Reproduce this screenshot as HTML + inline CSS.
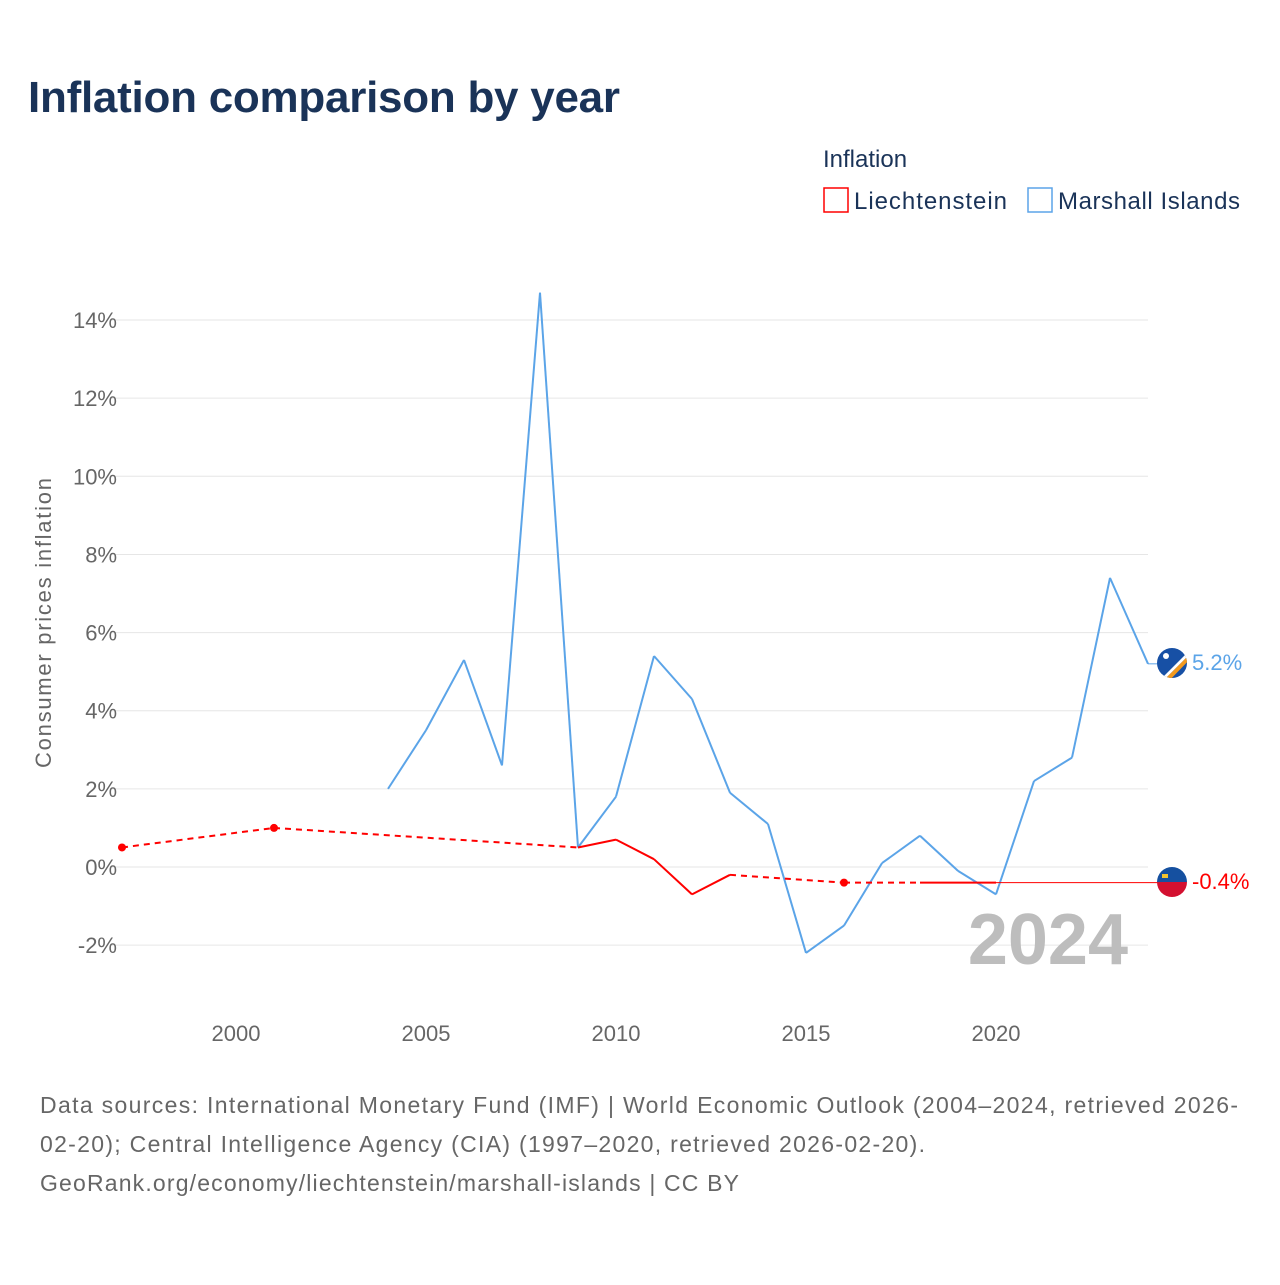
<!DOCTYPE html>
<html><head><meta charset="utf-8"><style>
body{margin:0;background:#fff;font-family:"Liberation Sans",sans-serif;}
svg text{font-family:"Liberation Sans",sans-serif;}
</style></head><body>
<svg width="1280" height="1280" viewBox="0 0 1280 1280">
<text x="28" y="112" font-size="44" font-weight="bold" fill="#1a3358" textLength="592">Inflation comparison by year</text>
<text x="823" y="167" font-size="24" fill="#1a3358">Inflation</text>
<g><rect x="824" y="188" width="24" height="24" fill="#fff" stroke="#ff0000" stroke-width="1.5"/><text x="854" y="209" font-size="24" fill="#1a3358" textLength="153">Liechtenstein</text></g>
<g><rect x="1028" y="188" width="24" height="24" fill="#fff" stroke="#5ba4e8" stroke-width="1.5"/><text x="1058" y="209" font-size="24" fill="#1a3358" textLength="182">Marshall Islands</text></g>
<g id="grid"></g><g id="plot"></g>
<text x="1128" y="964" font-size="72" font-weight="bold" fill="#bdbdbd" text-anchor="end">2024</text>
<text transform="translate(51,623) rotate(-90)" font-size="22" fill="#666" text-anchor="middle" textLength="290">Consumer prices inflation</text>
<g font-size="23" fill="#666">
<text x="40" y="1113" textLength="1198">Data sources: International Monetary Fund (IMF) | World Economic Outlook (2004–2024, retrieved 2026-</text>
<text x="40" y="1152" textLength="885">02-20); Central Intelligence Agency (CIA) (1997–2020, retrieved 2026-02-20).</text>
<text x="40" y="1191" textLength="699">GeoRank.org/economy/liechtenstein/marshall-islands | CC BY</text>
</g>
<g><clipPath id="c1"><circle cx="1172" cy="663" r="15"/></clipPath><g clip-path="url(#c1)"><rect x="1150" y="640" width="45" height="45" fill="#1750a5"/><polygon points="1160,680 1192,648 1192,652 1162,682" fill="#fff"/><polygon points="1162,682 1192,652 1192,657 1166,684" fill="#f39a1f"/><circle cx="1166" cy="656" r="3" fill="#fff"/></g></g>
<g><clipPath id="c2"><circle cx="1172" cy="882" r="15"/></clipPath><g clip-path="url(#c2)"><rect x="1150" y="860" width="45" height="22" fill="#1550a0"/><rect x="1150" y="882" width="45" height="25" fill="#d31030"/><rect x="1162" y="874" width="6" height="4" fill="#f4c430"/></g></g>
<text x="1192" y="670" font-size="22" fill="#5ba4e8">5.2%</text>
<text x="1192" y="889" font-size="22" fill="#ff0000">-0.4%</text>
</svg>
<script>
const yTicks=[-2,0,2,4,6,8,10,12,14];
const xTicks=[2000,2005,2010,2015,2020];
const miYears=[2004,2005,2006,2007,2008,2009,2010,2011,2012,2013,2014,2015,2016,2017,2018,2019,2020,2021,2022,2023,2024];
const miValues=[2.0,3.5,5.3,2.6,14.7,0.5,1.8,5.4,4.3,1.9,1.1,-2.2,-1.5,0.1,0.8,-0.1,-0.7,2.2,2.8,7.4,5.2];
const liYears=[1997,2001,2009,2010,2011,2012,2013,2016,2018,2019,2020];
const liValues=[0.5,1.0,0.5,0.7,0.2,-0.7,-0.2,-0.4,-0.4,-0.4,-0.4];
const liLast=-0.4, miLast=5.2;
const NS='http://www.w3.org/2000/svg';
const X=y=>236+(y-2000)*38;
const Y=v=>867-v*39.07;
const grid=document.getElementById('grid'),plot=document.getElementById('plot');
function mk(tag,at,parent){const e=document.createElementNS(NS,tag);for(const k in at)e.setAttribute(k,at[k]);parent.appendChild(e);return e;}
yTicks.forEach(t=>{
 const l=mk('line',{x1:110,x2:1148,y1:Y(t),y2:Y(t),stroke:'#e6e6e6','stroke-width':1},grid);
 
 
 const tx=mk('text',{x:117,y:Y(t)+8,'font-size':22,fill:'#666','text-anchor':'end'},grid);tx.textContent=t+'%';
 
 
});
xTicks.forEach(t=>{
 const tx=mk('text',{x:X(t),y:1041,'font-size':22,fill:'#666','text-anchor':'middle'},grid);tx.textContent=t;
 
 
});
function series(years,vals,color,name){
 for(let i=0;i<years.length-1;i++){
  const dash=years[i+1]-years[i]>1;
  const l=mk('line',{x1:X(years[i]),y1:Y(vals[i]),x2:X(years[i+1]),y2:Y(vals[i+1]),stroke:color,'stroke-width':2,'stroke-dasharray':dash?'6,5':'none'},plot);
  
  
 }
 years.forEach((y,i)=>{
  const p=i>0&&years[i]-years[i-1]==1, n=i<years.length-1&&years[i+1]-years[i]==1;
  if(!p&&!n){const c=mk('circle',{cx:X(y),cy:Y(vals[i]),r:4,fill:color},plot);
   
   }
 });
}
series(miYears,miValues,'#5ba4e8','marshall-islands');
series(liYears,liValues,'#ff0000','liechtenstein');
const e1=mk('line',{x1:X(liYears[liYears.length-1]),y1:Y(liLast),x2:1160,y2:Y(liLast),stroke:'#ff0000','stroke-width':1},plot);


const e2=mk('line',{x1:X(2024),y1:Y(miLast),x2:1160,y2:Y(miLast),stroke:'#5ba4e8','stroke-width':1},plot);


</script>
</body></html>
